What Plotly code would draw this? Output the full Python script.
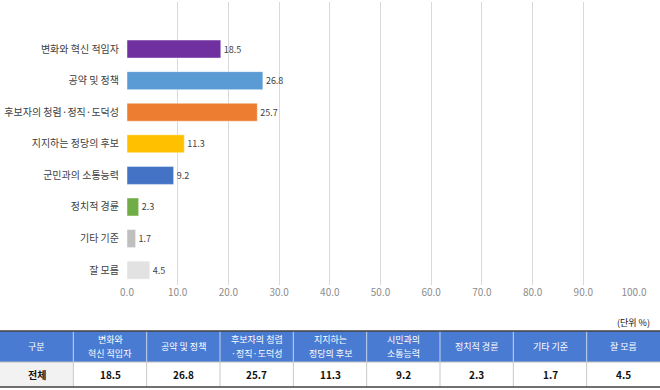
import plotly.graph_objects as go

categories = ["변화와 혁신 적임자", "공약 및 정책", "후보자의 청렴·정직·도덕성", "지지하는 정당의 후보",
              "군민과의 소통능력", "정치적 경륜", "기타 기준", "잘 모름"]
values = [18.5, 26.8, 25.7, 11.3, 9.2, 2.3, 1.7, 4.5]
bar_colors = ["#7030A0", "#5B9BD5", "#ED7D31", "#FFC000", "#4472C4", "#70AD47", "#BFBFBF", "#E2E2E2"]
x_ticks = [0, 10, 20, 30, 40, 50, 60, 70, 80, 90, 100]
table_header = [["구분"], ["변화와", "혁신 적임자"], ["공약 및 정책"], ["후보자의 청렴", "·정직·도덕성"],
                ["지지하는", "정당의 후보"], ["시민과의", "소통능력"], ["정치적 경륜"], ["기타 기준"], ["잘 모름"]]
row_label = "전체"
unit_text = "(단위 %)"

FONT = "Noto Sans CJK KR"
W, H = 660, 390

fig = go.Figure()
fig.add_trace(go.Bar(
    y=list(range(len(categories))), x=values, orientation="h",
    marker=dict(color=bar_colors, line=dict(color="rgba(255,255,255,0.45)", width=1)),
    width=0.57,
    text=[f"{v:.1f}" for v in values], textposition="outside",
    textfont=dict(size=9, color="#404040", family=FONT),
    cliponaxis=False, showlegend=False, hoverinfo="skip",
))

y_top_px, y_bot_px = 2, 285
fig.update_layout(
    width=W, height=H, margin=dict(l=0, r=0, t=0, b=0),
    paper_bgcolor="white", plot_bgcolor="white",
    font=dict(family=FONT, color="#404040"),
    xaxis=dict(domain=[127 / W, 634 / W], range=[0, 100], tickvals=x_ticks, tickformat=".1f",
               showgrid=True, gridcolor="#D9D9D9", gridwidth=1, zeroline=False, showline=False,
               tickfont=dict(size=10, color="#8C8C8C", family=FONT), ticks="", automargin=False),
    yaxis=dict(domain=[1 - y_bot_px / H, 1 - y_top_px / H], range=[7.47, -1.49],
               tickvals=list(range(len(categories))), ticktext=categories,
               showgrid=False, zeroline=False, showline=False, ticks="", automargin=False,
               tickfont=dict(size=10, color="#404040", family=FONT), ticklabelstandoff=7),
)

fig.add_annotation(x=652 / W, y=1 - 322 / H, xref="paper", yref="paper", text=unit_text,
                   showarrow=False, xanchor="right", yanchor="middle",
                   font=dict(size=9, color="#111111", family=FONT))

# ---- table drawn with shapes + annotations ----
def py(p):
    return 1 - p / H

top, mid, bot = 331, 362, 387
ncol = len(table_header)
cw = W / ncol
fig.add_shape(type="rect", xref="paper", yref="paper", x0=0, x1=1, y0=py(mid), y1=py(top),
              fillcolor="#4A7BD3", line=dict(width=0), layer="below")
fig.add_shape(type="rect", xref="paper", yref="paper", x0=0, x1=cw / W, y0=py(bot), y1=py(mid),
              fillcolor="#F2F2F2", line=dict(width=0), layer="below")
for i in range(1, ncol):
    xp = i * cw / W
    fig.add_shape(type="line", xref="paper", yref="paper", x0=xp, x1=xp, y0=py(mid), y1=py(top),
                  line=dict(color="#C8D4EC", width=1))
    fig.add_shape(type="line", xref="paper", yref="paper", x0=xp, x1=xp, y0=py(bot), y1=py(mid),
                  line=dict(color="#C8C8C8", width=1))
fig.add_shape(type="line", xref="paper", yref="paper", x0=0, x1=1, y0=py(mid), y1=py(mid),
              line=dict(color="#BFBFBF", width=1))
for ypx in (top, bot):
    fig.add_shape(type="line", xref="paper", yref="paper", x0=0, x1=1, y0=py(ypx), y1=py(ypx),
                  line=dict(color="#404040", width=1.5))

row_vals = [row_label] + [f"{v:.1f}" for v in values]
hc = (top + mid) / 2
for i in range(ncol):
    xc = (i + 0.5) * cw / W
    lines = table_header[i]
    n = len(lines)
    for k, line in enumerate(lines):
        ypx = hc + (k - (n - 1) / 2) * 13.5
        fig.add_annotation(x=xc, y=py(ypx), xref="paper", yref="paper", text=line,
                           showarrow=False, xanchor="center", yanchor="middle", borderpad=0,
                           font=dict(size=9, color="white", family=FONT))
    fig.add_annotation(x=xc, y=py((mid + bot) / 2), xref="paper", yref="paper", text=f"<b>{row_vals[i]}</b>",
                       showarrow=False, xanchor="center", yanchor="middle",
                       font=dict(size=10, color="#111111", family=FONT))

fig.write_html("out.html", config={"displayModeBar": False},
               post_script="document.body.style.margin='0';document.body.style.overflow='hidden';")
